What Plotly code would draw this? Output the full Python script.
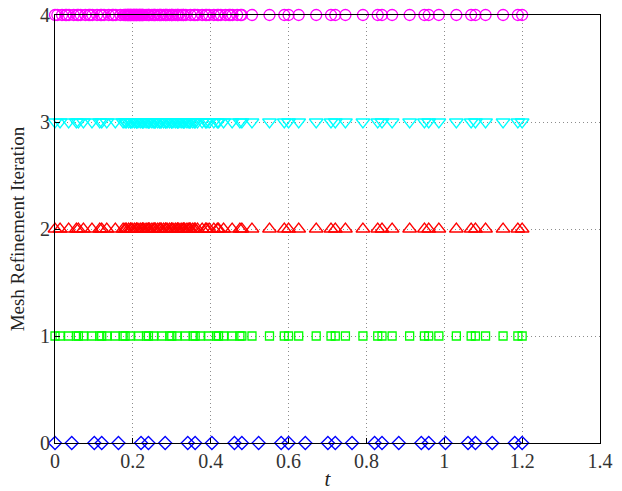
import plotly.graph_objects as go

# Collocation points (t) for each mesh refinement iteration
t_iter0 = [0, 0.043, 0.101, 0.12, 0.163, 0.221, 0.24, 0.283, 0.341, 0.36, 0.403, 0.461,
           0.48, 0.523, 0.581, 0.6, 0.643, 0.701, 0.72, 0.763, 0.821, 0.84, 0.883, 0.941,
           0.96, 1.003, 1.061, 1.08, 1.123, 1.181, 1.2]

t_iter1 = [0, 0.013, 0.035, 0.055, 0.06, 0.073, 0.095, 0.115, 0.12, 0.133, 0.155, 0.175,
           0.18, 0.193, 0.215, 0.235, 0.24, 0.253, 0.275, 0.295, 0.3, 0.313, 0.335, 0.355,
           0.36, 0.373, 0.395, 0.415, 0.42, 0.433, 0.455, 0.475,
           0.48, 0.506, 0.551, 0.589, 0.6, 0.626, 0.671, 0.709, 0.72, 0.746, 0.791, 0.829,
           0.84, 0.866, 0.911, 0.949, 0.96, 0.986, 1.031, 1.069, 1.08, 1.106, 1.151, 1.189, 1.2]

t_iter2 = [0, 0.013, 0.035, 0.055, 0.06, 0.073, 0.095, 0.115, 0.12, 0.133, 0.155, 0.175,
           0.18, 0.183, 0.189, 0.194, 0.195, 0.198, 0.204, 0.209, 0.21, 0.213, 0.219, 0.224,
           0.225, 0.228, 0.234, 0.239, 0.24, 0.243, 0.249, 0.254, 0.255, 0.258, 0.264, 0.269,
           0.27, 0.273, 0.279, 0.284, 0.285, 0.288, 0.294, 0.299, 0.3, 0.303, 0.309, 0.314,
           0.315, 0.318, 0.324, 0.329, 0.33, 0.333, 0.339, 0.344, 0.345, 0.348, 0.354, 0.359,
           0.36, 0.366, 0.378, 0.387, 0.39, 0.396, 0.408, 0.417, 0.42, 0.433, 0.455, 0.475,
           0.48, 0.506, 0.551, 0.589, 0.6, 0.626, 0.671, 0.709, 0.72, 0.746, 0.791, 0.829,
           0.84, 0.866, 0.911, 0.949, 0.96, 0.986, 1.031, 1.069, 1.08, 1.106, 1.151, 1.189, 1.2]

t_iter3 = [0, 0.013, 0.035, 0.055, 0.06, 0.073, 0.095, 0.115, 0.12, 0.133, 0.155, 0.175,
           0.18, 0.183, 0.189, 0.194, 0.195, 0.198, 0.204, 0.209, 0.21, 0.213, 0.219, 0.224,
           0.225, 0.228, 0.234, 0.239, 0.24, 0.243, 0.249, 0.254, 0.255, 0.258, 0.264, 0.269,
           0.27, 0.273, 0.279, 0.284, 0.285, 0.288, 0.294, 0.299, 0.3, 0.303, 0.309, 0.314,
           0.315, 0.318, 0.324, 0.329, 0.33, 0.333, 0.339, 0.344, 0.345, 0.348, 0.354, 0.359,
           0.36, 0.366, 0.378, 0.387, 0.39, 0.396, 0.408, 0.417, 0.42, 0.433, 0.455, 0.475,
           0.48, 0.506, 0.551, 0.589, 0.6, 0.626, 0.671, 0.709, 0.72, 0.746, 0.791, 0.829,
           0.84, 0.866, 0.911, 0.949, 0.96, 0.986, 1.031, 1.069, 1.08, 1.106, 1.151, 1.189, 1.2]

t_iter4 = [0, 0.006, 0.018, 0.027, 0.03, 0.036, 0.048, 0.057, 0.06, 0.066, 0.078, 0.087,
           0.09, 0.096, 0.108, 0.117, 0.12, 0.126, 0.138, 0.147, 0.15, 0.156, 0.168, 0.177,
           0.18, 0.182, 0.185, 0.187, 0.188, 0.19, 0.192, 0.194, 0.195, 0.197, 0.2, 0.202,
           0.203, 0.205, 0.207, 0.209, 0.21, 0.212, 0.215, 0.217, 0.218, 0.22, 0.222, 0.224,
           0.225, 0.228, 0.234, 0.239, 0.24, 0.243, 0.249, 0.254, 0.255, 0.258, 0.264, 0.269,
           0.27, 0.273, 0.279, 0.284, 0.285, 0.288, 0.294, 0.299, 0.3, 0.303, 0.309, 0.314,
           0.315, 0.318, 0.324, 0.329, 0.33, 0.336, 0.348, 0.357, 0.36, 0.366, 0.378, 0.387,
           0.39, 0.396, 0.408, 0.417, 0.42, 0.426, 0.438, 0.447, 0.45, 0.456, 0.468, 0.477,
           0.48, 0.506, 0.551, 0.589, 0.6, 0.626, 0.671, 0.709, 0.72, 0.746, 0.791, 0.829,
           0.84, 0.866, 0.911, 0.949, 0.96, 0.986, 1.031, 1.069, 1.08, 1.106, 1.151, 1.189, 1.2]

iterations = [0, 1, 2, 3, 4]
symbols = ["diamond-open", "square-open", "triangle-up-open", "triangle-down-open", "circle-open"]
colors = ["#0000ff", "#00ff00", "#ff0000", "#00ffff", "#ff00ff"]
sizes = [10, 8, 12, 12, 11]
series = [t_iter0, t_iter1, t_iter2, t_iter3, t_iter4]

fig = go.Figure()
for k, ts in zip(iterations, series):
    fig.add_trace(go.Scatter(
        x=ts, y=[k] * len(ts), mode="markers",
        marker=dict(symbol=symbols[k], color=colors[k], size=sizes[k],
                    line=dict(width=1.3, color=colors[k])),
        cliponaxis=False, showlegend=False))

font_family = "Liberation Serif, DejaVu Serif, serif"
axis_common = dict(
    showline=True, linecolor="black", linewidth=1, mirror=True,
    showgrid=True, gridcolor="#8c8c8c", griddash="1px,3px", gridwidth=1,
    ticks="inside", ticklen=5, tickcolor="black", zeroline=False, automargin=False,
    tickfont=dict(family=font_family, size=20, color="#333333"),
)
fig.update_xaxes(range=[0, 1.4], dtick=0.2, tickformat="~g",
                 title=dict(text="<i>t</i>", font=dict(family=font_family, size=21, color="#222222"),
                            standoff=3),
                 **axis_common)
fig.update_yaxes(range=[0, 4], dtick=1,
                 title=dict(text="Mesh Refinement Iteration",
                            font=dict(family=font_family, size=19, color="#222222"), standoff=10),
                 **axis_common)
fig.update_layout(
    width=622, height=491, margin=dict(l=55, r=22, t=15, b=48),
    plot_bgcolor="white", paper_bgcolor="white",
)
fig.write_html("out.html")
